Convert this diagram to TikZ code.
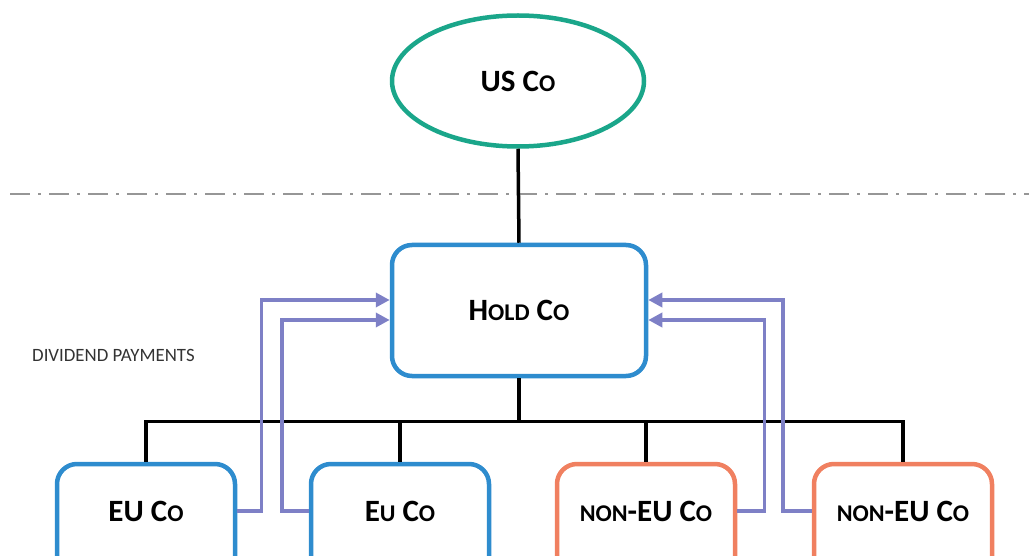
\documentclass[tikz,border=0pt]{standalone}
\usepackage{fontspec}
\setmainfont{Carlito}
\usetikzlibrary{shapes.geometric,arrows.meta}
\definecolor{teal1}{RGB}{26,166,138}
\definecolor{blue1}{RGB}{46,140,206}
\definecolor{orange1}{RGB}{240,128,96}
\definecolor{purple1}{RGB}{126,128,198}
\definecolor{dash1}{RGB}{150,150,150}
\newcommand\bigf{\fontsize{31}{34}\selectfont\bfseries}
\newcommand\smf[1]{{\fontsize{24}{27}\selectfont #1}}
\tikzset{
  entbox/.style={draw=blue1, line width=4.5pt, rounded corners=20pt, fill=white, inner sep=0pt},
  nonbox/.style={entbox, draw=orange1},
  boxtext/.style={inner sep=0pt, font=\bigf},
  tree/.style={draw=black, line width=3.5pt},
  pay/.style={draw=purple1, line width=3.5pt, -{Triangle[length=14pt,width=14pt]}},
  sep/.style={draw=dash1, line width=2.5pt, dash pattern=on 20pt off 8pt on 3pt off 8pt}
}
\begin{document}
\begin{tikzpicture}[x=1pt,y=-1pt]
\useasboundingbox (0,0) rectangle (1029,556);
\clip (0,0) rectangle (1029,556);
% separator
\coordinate (sepL) at (10,194);
\coordinate (sepR) at (1029,194);
\draw[sep] (sepL) -- (sepR);
% nodes
\node[ellipse, draw=teal1, line width=4.5pt, fill=white, inner sep=0pt,
      minimum width=252pt, minimum height=131pt, font=\bigf] (us) at (518,81) {US C\smf{O}};
\node[entbox, minimum width=254pt, minimum height=131pt, font=\bigf] (hold) at (519,310.5) {H\smf{OLD} C\smf{O}};
\node[entbox, minimum width=178pt, minimum height=130pt] (eu1) at (146,529) {};
\node[entbox, minimum width=178pt, minimum height=130pt] (eu2) at (400,529) {};
\node[nonbox, minimum width=178pt, minimum height=130pt] (ne1) at (646,529) {};
\node[nonbox, minimum width=178pt, minimum height=130pt] (ne2) at (903,529) {};
\node[boxtext] (eu1t) at (146,511) {EU C\smf{O}};
\node[boxtext] (eu2t) at (400,511) {E\smf{U} C\smf{O}};
\node[boxtext] (ne1t) at (646,511) {\smf{NON}-EU C\smf{O}};
\node[boxtext] (ne2t) at (903,511) {\smf{NON}-EU C\smf{O}};
\node[anchor=west, inner sep=0pt, text=black!80, font=\fontsize{18.8}{21}\selectfont] (div) at (32,355) {DIVIDEND PAYMENTS};
% tree
\draw[tree] (us.south) -- (hold.north);
\draw[tree] (hold.south) -- ++(0,43) coordinate (bus);
\draw[tree] (eu1.north) |- (bus);
\draw[tree] (eu2.north) |- (bus);
\draw[tree] (ne1.north) |- (bus);
\draw[tree] (ne2.north) |- (bus);
% payments
\draw[pay] (eu1.east |- eu1t.center) -- ++(24,0) |- ([yshift=10.5pt]hold.west);
\draw[pay] (eu2.west |- eu2t.center) -- ++(-27,0) |- ([yshift=-9.5pt]hold.west);
\draw[pay] (ne1.east |- ne1t.center) -- ++(27,0) |- ([yshift=-9.5pt]hold.east);
\draw[pay] (ne2.west |- ne2t.center) -- ++(-29,0) |- ([yshift=10.5pt]hold.east);
\end{tikzpicture}
\end{document}
